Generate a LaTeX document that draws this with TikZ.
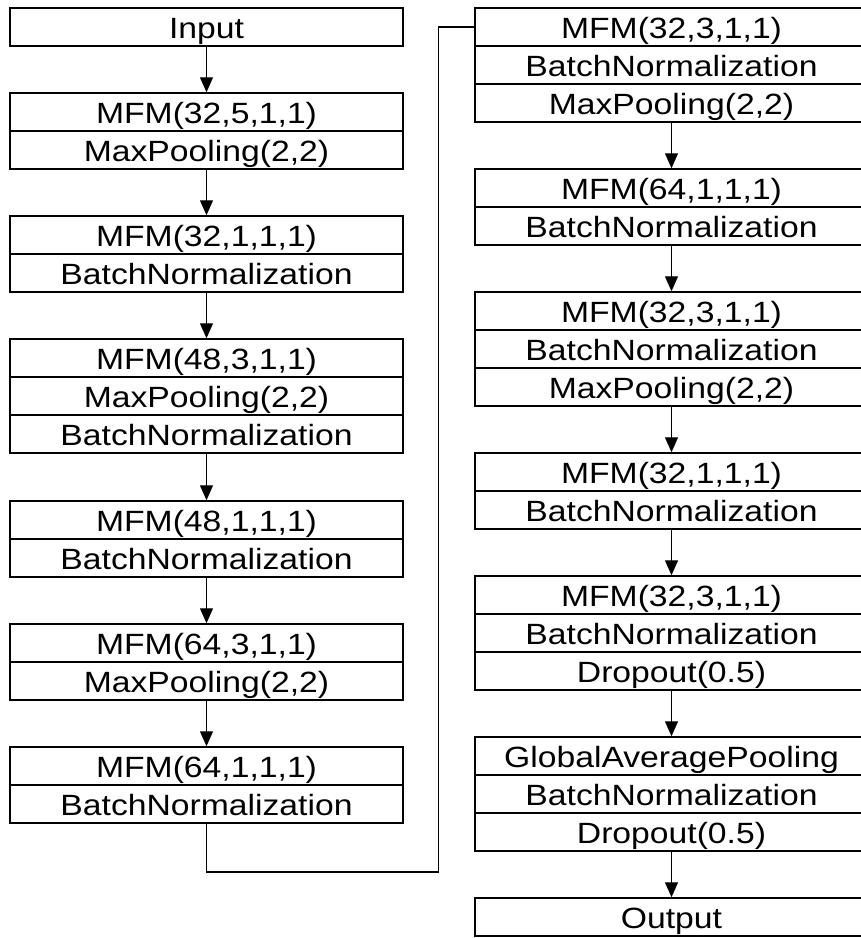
\documentclass[tikz,border=0pt]{standalone}
\usepackage{fontspec}
\newfontfamily\layerfont{Liberation Sans}[FakeStretch=1.15]
\usetikzlibrary{arrows.meta}

\begin{document}
\begin{tikzpicture}[x=1pt, y=1pt,
layer/.style={rectangle, draw, line width=1.5pt, minimum width=393pt, minimum height=38pt,
  inner sep=0pt, text height=23.5pt, text depth=0pt, font=\layerfont\fontsize{29.3}{31}\selectfont},
link/.style={line width=1.4pt},
flow/.style={link, -{Triangle[length=15pt, width=13pt]}}]

%% local variables
\def \lx {206.5}
\def \rx {671.5}

\useasboundingbox (0,0) rectangle (861,-938);
\clip (0,0) rectangle (861,-938);

%% left column
\node[layer] (input) at (\lx,-27) {Input};
\node[layer] (B1-1) at (\lx,-112) {MFM(32,5,1,1)};
\node[layer] (B1-2) at (\lx,-150) {MaxPooling(2,2)};
\node[layer] (B2-1) at (\lx,-235) {MFM(32,1,1,1)};
\node[layer] (B2-2) at (\lx,-273) {BatchNormalization};
\node[layer] (B3-1) at (\lx,-358) {MFM(48,3,1,1)};
\node[layer] (B3-2) at (\lx,-396) {MaxPooling(2,2)};
\node[layer] (B3-3) at (\lx,-434) {BatchNormalization};
\node[layer] (B4-1) at (\lx,-520) {MFM(48,1,1,1)};
\node[layer] (B4-2) at (\lx,-558) {BatchNormalization};
\node[layer] (B5-1) at (\lx,-643) {MFM(64,3,1,1)};
\node[layer] (B5-2) at (\lx,-681) {MaxPooling(2,2)};
\node[layer] (B6-1) at (\lx,-766) {MFM(64,1,1,1)};
\node[layer] (B6-2) at (\lx,-804) {BatchNormalization};

%% right column
\node[layer] (B7-1) at (\rx,-27) {MFM(32,3,1,1)};
\node[layer] (B7-2) at (\rx,-65) {BatchNormalization};
\node[layer] (B7-3) at (\rx,-103) {MaxPooling(2,2)};
\node[layer] (B8-1) at (\rx,-188) {MFM(64,1,1,1)};
\node[layer] (B8-2) at (\rx,-226) {BatchNormalization};
\node[layer] (B9-1) at (\rx,-311) {MFM(32,3,1,1)};
\node[layer] (B9-2) at (\rx,-349) {BatchNormalization};
\node[layer] (B9-3) at (\rx,-387) {MaxPooling(2,2)};
\node[layer] (B10-1) at (\rx,-472) {MFM(32,1,1,1)};
\node[layer] (B10-2) at (\rx,-510) {BatchNormalization};
\node[layer] (B11-1) at (\rx,-595) {MFM(32,3,1,1)};
\node[layer] (B11-2) at (\rx,-633) {BatchNormalization};
\node[layer] (B11-3) at (\rx,-671) {Dropout(0.5)};
\node[layer] (B12-1) at (\rx,-756) {GlobalAveragePooling};
\node[layer] (B12-2) at (\rx,-794) {BatchNormalization};
\node[layer] (B12-3) at (\rx,-832) {Dropout(0.5)};
\node[layer] (output) at (\rx,-917) {Output};

%% place all arrows
\foreach \a/\b in {input/B1-1, B1-2/B2-1, B2-2/B3-1, B3-3/B4-1, B4-2/B5-1, B5-2/B6-1,
                   B7-3/B8-1, B8-2/B9-1, B9-3/B10-1, B10-2/B11-1, B11-3/B12-1, B12-3/output}
      \draw[flow] (\a.south) -- (\b.north);

%% link between columns
\coordinate (turn) at (438.5,-872);
\draw[link] (B6-2.south) |- (turn) |- (B7-1.west);

\end{tikzpicture}
\end{document}
